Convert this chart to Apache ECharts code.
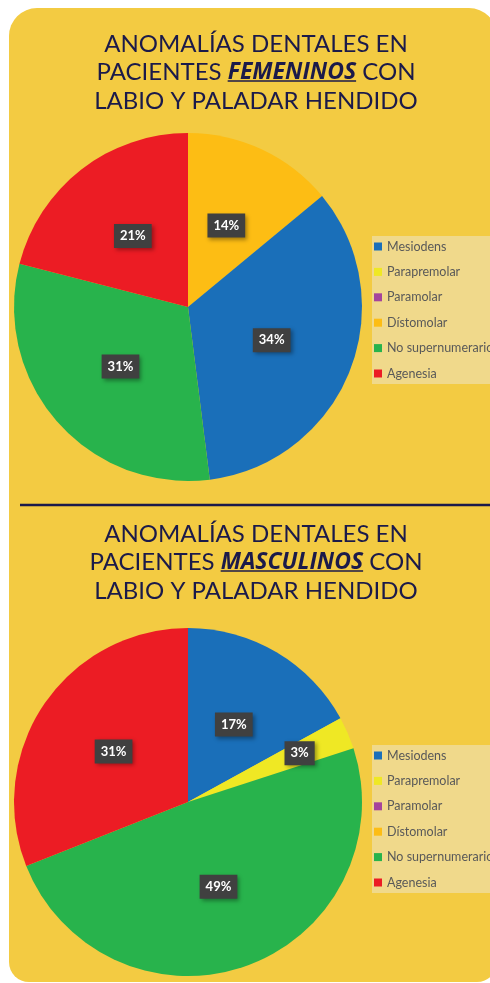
<!DOCTYPE html>
<html>
<head>
<meta charset="utf-8">
<script src="https://cdn.jsdelivr.net/npm/echarts@6/dist/echarts.min.js"></script>
<style>
  html, body { margin: 0; padding: 0; background: #ffffff; }
  #chart { width: 490px; height: 983px; }
</style>
</head>
<body>
<div id="chart"></div>
<script>
// categorias (orden de la leyenda)
const categories = ['Mesiodens', 'Parapremolar', 'Paramolar', 'Dístomolar', 'No supernumerario', 'Agenesia'];
const colors = ['#1A6FB9', '#EFE824', '#A5449C', '#FDBD14', '#28B34C', '#EC1C24'];

// porcentajes por categoria
const femeninos = [34, 0, 0, 14, 31, 21];
const masculinos = [17, 3, 0, 0, 49, 31];

// orden de las rebanadas, en sentido horario desde las 12
const femeninosOrder = [3, 0, 1, 2, 4, 5];
const masculinosOrder = [0, 1, 2, 3, 4, 5];

const navy = '#1B1A4A';
const font = 'Lato, "Open Sans", sans-serif';
const boldFont = 'italic bold 23px "Open Sans"';
const plainFont = '24px Lato';

function buildData(values, order) {
    return order.map(function (i) {
        return {
            name: categories[i],
            value: values[i],
            itemStyle: { color: colors[i] },
            label: { show: values[i] > 0 }
        };
    });
}

const labelStyle = {
    show: true,
    position: 'inside',
    formatter: function (p) { return Math.round(p.percent) + '%'; },
    color: '#ffffff',
    fontFamily: font,
    fontWeight: 'bold',
    fontSize: 13,
    lineHeight: 14,
    backgroundColor: '#404040',
    padding: [5, 6],
    shadowColor: 'rgba(0,0,0,0.35)',
    shadowBlur: 4,
    shadowOffsetX: 2,
    shadowOffsetY: 2
};

function legendAt(top) {
    return {
        orient: 'vertical',
        left: 372,
        top: top,
        data: categories,
        icon: 'rect',
        itemWidth: 8,
        itemHeight: 8,
        itemGap: 12.4,
        selectedMode: false,
        backgroundColor: '#F0D98B',
        padding: [4, 40, 4, 2],
        textStyle: { fontFamily: font, fontSize: 12.5, lineHeight: 12, color: '#595959' }
    };
}

// medir el texto para subrayar la palabra destacada
const ctx = document.createElement('canvas').getContext('2d');
function textWidth(str, f) { ctx.font = f; return ctx.measureText(str).width; }

function titleParts(word, y, underlineY) {
    const w1 = textWidth('PACIENTES ', plainFont);
    const w2 = textWidth(word, boldFont);
    const w3 = textWidth(' CON', plainFont);
    const x0 = 256 - (w1 + w2 + w3) / 2;
    return [
        {
            type: 'text',
            x: 256,
            y: y,
            style: {
                text: 'ANOMALÍAS DENTALES EN\nPACIENTES {u|' + word + '} CON\nLABIO Y PALADAR HENDIDO',
                align: 'center',
                verticalAlign: 'top',
                fill: navy,
                font: plainFont,
                lineHeight: 28.5,
                rich: {
                    u: { fontFamily: '"Open Sans"', fontSize: 23, fontWeight: 'bold', fontStyle: 'italic', fill: navy, lineHeight: 28.5 }
                }
            }
        },
        {
            type: 'line',
            shape: { x1: x0 + w1, y1: underlineY, x2: x0 + w1 + w2, y2: underlineY },
            style: { stroke: navy, lineWidth: 1.6 }
        }
    ];
}

const chart = echarts.init(document.getElementById('chart'));

chart.setOption({
    animation: false,
    graphic: [
        { type: 'rect', z: -10, shape: { x: 9, y: 8, width: 488, height: 974, r: [28, 28, 20, 20] }, style: { fill: '#F3CB42' } },
        { type: 'line', shape: { x1: 20, y1: 505, x2: 490, y2: 505 }, style: { stroke: navy, lineWidth: 2.6 } }
    ].concat(titleParts('FEMENINOS', 30, 81), titleParts('MASCULINOS', 520, 571)),
    legend: [legendAt(236), legendAt(745)],
    series: [
        {
            type: 'pie',
            center: [188, 307],
            radius: 174,
            startAngle: 90,
            clockwise: true,
            label: labelStyle,
            labelLine: { show: false },
            emphasis: { disabled: true },
            data: buildData(femeninos, femeninosOrder)
        },
        {
            type: 'pie',
            center: [188, 802],
            radius: 174,
            startAngle: 90,
            clockwise: true,
            label: labelStyle,
            labelLine: { show: false },
            emphasis: { disabled: true },
            // la etiqueta del 3% va desplazada hacia afuera
            labelLayout: function (p) {
                if (p.dataIndex === 1) return { dx: 29, dy: -13 };
                return {};
            },
            data: buildData(masculinos, masculinosOrder)
        }
    ]
});
</script>
</body>
</html>
